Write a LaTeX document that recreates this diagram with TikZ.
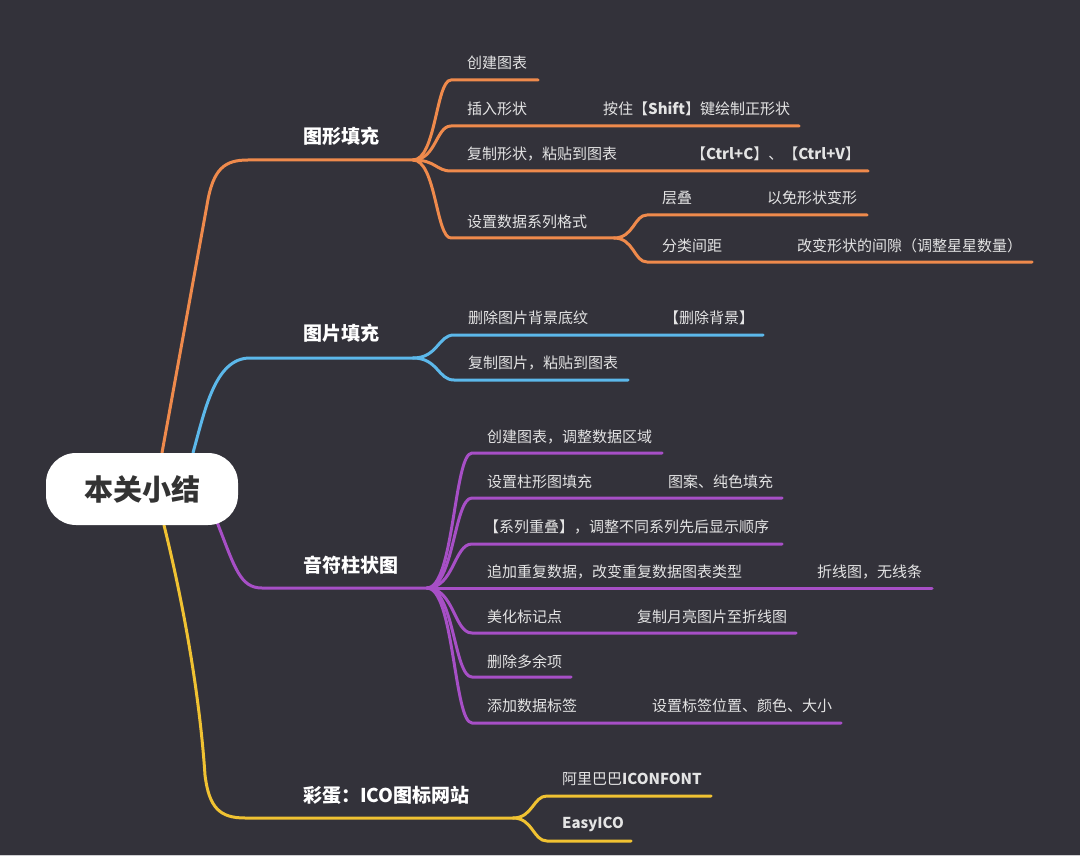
\documentclass[tikz,border=0pt]{standalone}
\usepackage{fontspec}
\setmainfont{Noto Sans CJK SC}
\usetikzlibrary{calc}
\definecolor{bgc}{HTML}{33323A}
\definecolor{cor}{HTML}{EF8A4C}
\definecolor{cbl}{HTML}{5CB8EA}
\definecolor{cpu}{HTML}{A74FC6}
\definecolor{cye}{HTML}{F0C232}
\definecolor{ctx}{HTML}{E4E4E4}
\definecolor{croot}{HTML}{333333}
\definecolor{cedge}{HTML}{CFCFD2}
\pgfdeclarelayer{back}
\pgfsetlayers{back,main}
\begin{document}
\begin{tikzpicture}[x=1pt,y=-1pt,
  line/.style={line width=3pt, line cap=round, line join=round},
  lab/.style={anchor=west, inner sep=0pt, text=ctx, font=\fontsize{15}{15}\selectfont},
  mainlab/.style={anchor=west, inner sep=0pt, text=white, font=\fontsize{19}{19}\selectfont\bfseries},
  rootbox/.style={fill=white, rounded corners=30pt, minimum width=192pt, minimum height=72pt, inner sep=0pt, text=croot, font=\fontsize{29}{29}\selectfont\bfseries}]
\useasboundingbox (0,0) rectangle (1080,856);
\begin{pgfonlayer}{back}
\fill[bgc] (0,0) rectangle (1080,856);
\fill[cedge] (0,854.5) rectangle (1080,856);
\end{pgfonlayer}

% root
\node[rootbox] (root) at (142,489) {本关小结};

% main labels
\node[mainlab] (m1) at (303,136) {图形填充};
\node[mainlab] (m2) at (303,333) {图片填充};
\node[mainlab] (m3) at (303,565) {音符柱状图};
\node[mainlab] (m4) at (303,795) {彩蛋：ICO图标网站};

% orange labels
\node[lab] (o1) at (467,63) {创建图表};
\node[lab] (o2) at (467,109) {插入形状};
\node[lab] (o2b) at (603,109) {按住【{\bfseries Shift}】键绘制正形状};
\node[lab] (o3) at (467,154) {复制形状，粘贴到图表};
\node[lab] (o3b) at (691,154) {【{\bfseries Ctrl+C}】、【{\bfseries Ctrl+V}】};
\node[lab] (o4) at (467,222) {设置数据系列格式};
\node[lab] (o41) at (662,198) {层叠};
\node[lab] (o41b) at (767,198) {以免形状变形};
\node[lab] (o42) at (662,246) {分类间距};
\node[lab] (o42b) at (797,246) {改变形状的间隙（调整星星数量）};

% blue labels
\node[lab] (b1) at (468,318) {删除图片背景底纹};
\node[lab] (b1b) at (664,318) {【删除背景】};
\node[lab] (b2) at (468,363) {复制图片，粘贴到图表};

% purple labels
\node[lab] (p1) at (487,437) {创建图表，调整数据区域};
\node[lab] (p2) at (487,482) {设置柱形图填充};
\node[lab] (p2b) at (668,482) {图案、纯色填充};
\node[lab] (p3) at (484,527) {【系列重叠】，调整不同系列先后显示顺序};
\node[lab] (p4) at (487,572) {追加重复数据，改变重复数据图表类型};
\node[lab] (p4b) at (817,572) {折线图，无线条};
\node[lab] (p5) at (487,617) {美化标记点};
\node[lab] (p5b) at (637,617) {复制月亮图片至折线图};
\node[lab] (p6) at (487,662) {删除多余项};
\node[lab] (p7) at (487,706) {添加数据标签};
\node[lab] (p7b) at (652,706) {设置标签位置、颜色、大小};

% yellow labels
\node[lab] (y1) at (562,779) {阿里巴巴{\bfseries ICONFONT}};
\node[lab] (y2) at (562,824) {\bfseries EasyICO};

% coordinates
\coordinate (oS) at ($(root.north)+(20,0)$);
\coordinate (bS) at ($(root.north)+(51,0)$);
\coordinate (pS) at (217,522);
\coordinate (yS) at ($(root.south)+(22,0)$);
\coordinate (fO) at (413,160);
\coordinate (fB) at (413,358);
\coordinate (fP) at (427,588);
\coordinate (fY) at (513,818);
\coordinate (fO4) at (614,238);
\coordinate (eO1) at (538,80);
\coordinate (eO2) at (799,126);
\coordinate (eO3) at (868,171);
\coordinate (eO41) at (867,215);
\coordinate (eO42) at (1032,262);
\coordinate (eB1) at (763,335);
\coordinate (eB2) at (628,380);
\coordinate (eP1) at (662,453);
\coordinate (eP2) at (782,498);
\coordinate (eP3) at (782,544);
\coordinate (eP4) at (932,588);
\coordinate (eP5) at (796,633);
\coordinate (eP6) at (571,677);
\coordinate (eP7) at (841,723);
\coordinate (eY1) at (711,796);
\coordinate (eY2) at (631,841);

\begin{pgfonlayer}{back}
% main branches
\draw[line,cor] (oS) -- (207,205) .. controls (213,168) and (225,160) .. (248,160) -- (fO);
\draw[line,cbl] (bS) .. controls (205,410) and (215,358) .. (250,358) -- (fB);
\draw[line,cpu] (pS) .. controls (235,568) and (240,588) .. (262,588) -- (fP);
\draw[line,cye] (yS) .. controls (185,610) and (200,700) .. (205,775) .. controls (209,808) and (220,818) .. (245,818) -- (fY);

% orange sub-branches
\draw[line,cor] (fO) .. controls (436,160) and (436,80) .. (451,80) -- (eO1);
\draw[line,cor] (fO) .. controls (436,160) and (436,126) .. (451,126) -- (eO2);
\draw[line,cor] (fO) .. controls (436,160) and (436,171) .. (451,171) -- (eO3);
\draw[line,cor] (fO) .. controls (436,160) and (436,238) .. (451,238) -- (fO4);
\draw[line,cor] (fO4) .. controls (634,238) and (634,215) .. (647,215) -- (eO41);
\draw[line,cor] (fO4) .. controls (634,238) and (634,262) .. (647,262) -- (eO42);

% blue sub-branches
\draw[line,cbl] (fB) .. controls (438,358) and (438,335) .. (454,335) -- (eB1);
\draw[line,cbl] (fB) .. controls (438,358) and (438,380) .. (454,380) -- (eB2);

% purple sub-branches
\draw[line,cpu] (fP) .. controls (454,588) and (454,453) .. (472,453) -- (eP1);
\draw[line,cpu] (fP) .. controls (454,588) and (454,498) .. (472,498) -- (eP2);
\draw[line,cpu] (fP) .. controls (454,588) and (454,544) .. (472,544) -- (eP3);
\draw[line,cpu] (fP) -- (eP4);
\draw[line,cpu] (fP) .. controls (454,588) and (454,633) .. (472,633) -- (eP5);
\draw[line,cpu] (fP) .. controls (454,588) and (454,677) .. (472,677) -- (eP6);
\draw[line,cpu] (fP) .. controls (454,588) and (454,723) .. (472,723) -- (eP7);

% yellow sub-branches
\draw[line,cye] (fY) .. controls (533,818) and (533,796) .. (547,796) -- (eY1);
\draw[line,cye] (fY) .. controls (533,818) and (533,841) .. (547,841) -- (eY2);
\end{pgfonlayer}
\end{tikzpicture}
\end{document}
